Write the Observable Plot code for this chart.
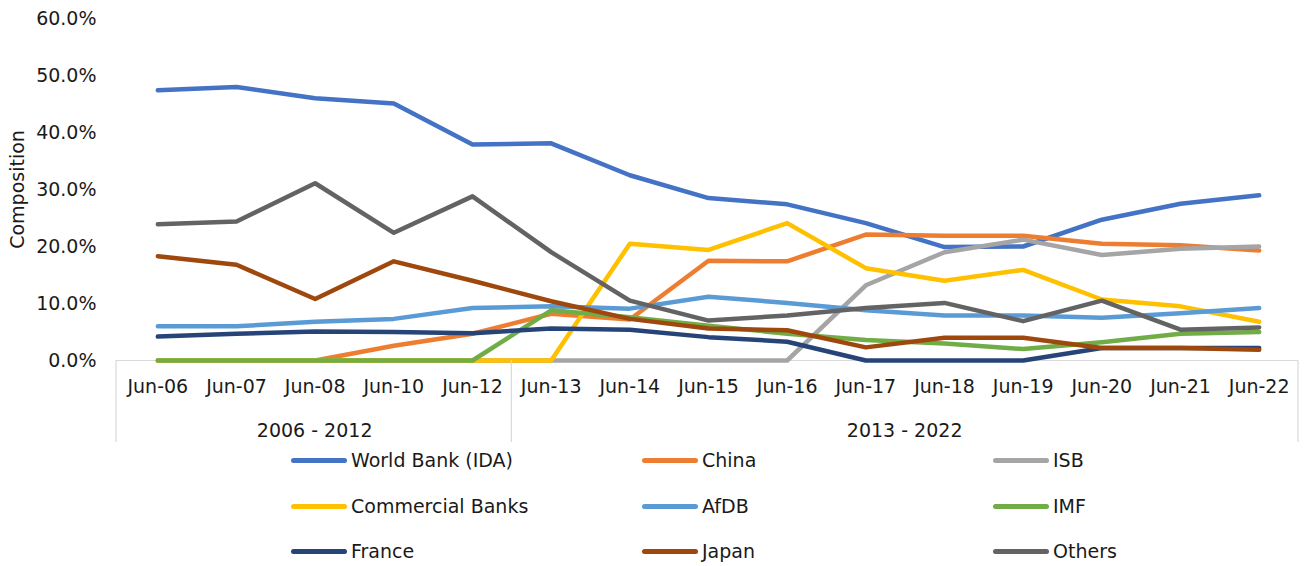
<!DOCTYPE html>
<html>
<head>
<meta charset="utf-8">
<script src="https://cdn.jsdelivr.net/npm/d3@7"></script>
<script src="https://cdn.jsdelivr.net/npm/@observablehq/plot@0.6"></script>
<style>
  html, body { margin: 0; padding: 0; background: #fff; }
  #wrap { position: relative; width: 1304px; height: 566px; font-family: "DejaVu Sans", sans-serif; color: #1a1a1a; }
  #legend { position: relative; width: 1304px; height: 121px; font-size: 19px; }
  .item { position: absolute; display: flex; align-items: center; height: 24px; }
  .swatch { width: 56px; height: 5px; border-radius: 3px; margin-right: 4px; }
</style>
</head>
<body>
<div id="wrap"><div id="chart"></div><div id="legend"></div></div>
<script>
// ---- data (percent) ----
const categories = ["Jun-06","Jun-07","Jun-08","Jun-10","Jun-12","Jun-13","Jun-14","Jun-15","Jun-16","Jun-17","Jun-18","Jun-19","Jun-20","Jun-21","Jun-22"];
const groups = [
  {label: "2006 - 2012", first: "Jun-06", last: "Jun-12"},
  {label: "2013 - 2022", first: "Jun-13", last: "Jun-22"}
];
const seriesNames = ["World Bank (IDA)","China","ISB","Commercial Banks","AfDB","IMF","France","Japan","Others"];
const seriesColors = ["#4472C4","#ED7D31","#A5A5A5","#FFC000","#5B9BD5","#70AD47","#264478","#9E480E","#636363"];
const worldBank  = [47.4, 48.0, 46.0, 45.1, 37.9, 38.1, 32.5, 28.5, 27.4, 24.1, 19.9, 20.0, 24.7, 27.5, 29.0];
const china      = [0, 0, 0, 2.6, 4.7, 8.2, 7.2, 17.5, 17.4, 22.1, 21.9, 21.9, 20.5, 20.2, 19.3];
const isb        = [0, 0, 0, 0, 0, 0, 0, 0, 0, 13.2, 19.0, 21.2, 18.5, 19.6, 20.0];
const commercial = [0, 0, 0, 0, 0, 0, 20.5, 19.4, 24.1, 16.2, 14.0, 15.9, 10.7, 9.5, 6.8];
const afdb       = [6.0, 6.0, 6.8, 7.3, 9.2, 9.5, 9.1, 11.2, 10.1, 8.8, 7.9, 7.9, 7.5, 8.3, 9.2];
const imf        = [0, 0, 0, 0, 0, 8.8, 7.6, 6.1, 4.7, 3.6, 3.0, 2.0, 3.2, 4.7, 5.0];
const france     = [4.2, 4.7, 5.1, 5.0, 4.8, 5.6, 5.4, 4.1, 3.3, 0, 0, 0, 2.2, 2.2, 2.2];
const japan      = [18.3, 16.8, 10.8, 17.4, 14.0, 10.4, 7.3, 5.6, 5.3, 2.3, 4.0, 4.0, 2.2, 2.2, 1.9];
const others     = [23.9, 24.4, 31.1, 22.4, 28.8, 19.0, 10.5, 7.0, 7.9, 9.2, 10.1, 6.9, 10.5, 5.4, 5.8];
const yTicks = [0, 0.1, 0.2, 0.3, 0.4, 0.5, 0.6];

const seriesValues = [worldBank, china, isb, commercial, afdb, imf, france, japan, others];
const data = [];
seriesNames.forEach((name, i) => {
  seriesValues[i].forEach((v, j) => data.push({series: name, date: categories[j], value: v / 100}));
});

const chart = Plot.plot({
  width: 1304,
  height: 445,
  marginLeft: 118,
  marginRight: 6,
  marginTop: 18,
  marginBottom: 85,
  style: {fontFamily: "DejaVu Sans, sans-serif", fontSize: "19px", color: "#1a1a1a", background: "#fff"},
  x: {type: "point", domain: categories, padding: 0.5, round: false, label: null, tickSize: 0, tickPadding: 19},
  y: {domain: [0, 0.6], ticks: yTicks, tickFormat: d3.format(".1%"), tickSize: 0, tickPadding: 22,
      label: "Composition", labelAnchor: "center", labelArrow: "none", labelOffset: 108},
  color: {domain: seriesNames, range: seriesColors},
  marks: [
    Plot.ruleY([0], {stroke: "#d9d9d9", strokeWidth: 1.2, insetLeft: -2}),
    Plot.line(data, {x: "date", y: "value", z: "series", stroke: "series", strokeWidth: 4.5,
                     strokeLinecap: "round", strokeLinejoin: "round"})
  ]
});
document.getElementById("chart").appendChild(chart);

// multi-level category axis: separators and group labels, from the library's scales
const xs = chart.scale("x"), ys = chart.scale("y");
const step = xs.apply(categories[1]) - xs.apply(categories[0]);
const y0 = ys.apply(0);
const g = d3.select(chart).append("g");
const bounds = [xs.apply(categories[0]) - step / 2 - 2].concat(groups.map(gr => xs.apply(gr.last) + step / 2));
bounds.forEach(b => {
  g.append("line").attr("x1", b).attr("x2", b).attr("y1", y0).attr("y2", y0 + 82)
    .attr("stroke", "#d9d9d9").attr("stroke-width", 1.2);
});
groups.forEach(gr => {
  const cx = (xs.apply(gr.first) + xs.apply(gr.last)) / 2;
  g.append("text").attr("x", cx).attr("y", y0 + 70).attr("dy", "0.35em")
    .attr("text-anchor", "middle").attr("fill", "currentColor").text(gr.label);
});

// legend
const legend = document.getElementById("legend");
const colX = [291, 642, 993];
const rowY = [3, 49, 94];
seriesNames.forEach((name, i) => {
  const item = document.createElement("div");
  item.className = "item";
  item.style.left = colX[i % 3] + "px";
  item.style.top = rowY[Math.floor(i / 3)] + "px";
  const sw = document.createElement("div");
  sw.className = "swatch";
  sw.style.background = seriesColors[i];
  const lab = document.createElement("span");
  lab.textContent = name;
  item.appendChild(sw);
  item.appendChild(lab);
  legend.appendChild(item);
});
</script>
</body>
</html>
